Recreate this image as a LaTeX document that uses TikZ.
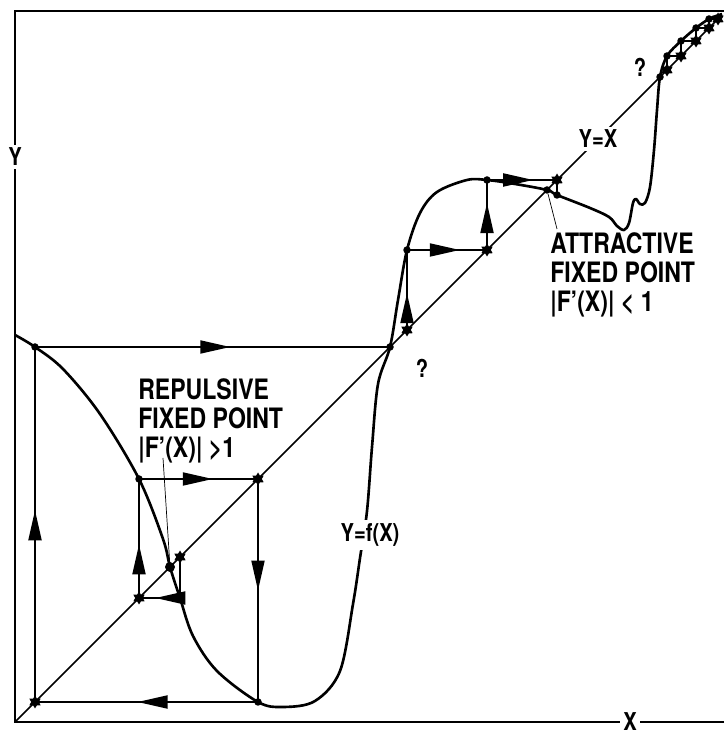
\documentclass[tikz,border=0pt]{standalone}
\usepackage{fontspec}
\setmainfont[FakeStretch=0.82]{TeX Gyre Heros}
\usepackage{tikz}
\usetikzlibrary{shapes.geometric, arrows.meta, decorations.markings}

\begin{document}
\begin{tikzpicture}[
  x=0.02cm, y=0.02cm,
  axis/.style={line width=1.1pt},
  graph/.style={line width=1.5pt, line join=round},
  web/.style={line width=1.1pt},
  flow/.style={postaction={decorate}, decoration={markings, mark=at position #1 with {\arrow{Triangle[length=6mm, width=2.6mm]}}}},
  diagpt/.style={star, star points=6, star point ratio=1.7, fill=black, inner sep=0pt, minimum size=2.6mm},
  curvept/.style={circle, fill=black, inner sep=0pt, minimum size=1.5mm},
  axlabel/.style={fill=white, inner sep=2pt, font=\fontsize{14}{16}\selectfont\bfseries},
  fplabel/.style={align=left, inner sep=0pt, font=\fontsize{16}{16.5}\selectfont\bfseries},
  pointer/.style={line width=0.4pt}
]
\useasboundingbox (-15,-20) rectangle (709,722);
\coordinate (o) at (0,0);
\coordinate (tl) at (0,711);
\coordinate (tr) at (709,711);
\coordinate (br) at (709,0);
\coordinate (dend) at (707,707);
\draw[axis] (br) -- (o) -- (tl) -- (tr);
\draw[line width=0.85pt] (o) -- (dend);
\draw[graph] plot[smooth, tension=0.55] coordinates {
  (0,387) (20,375) (48,353) (85,308) (124,243) (148,183) (155,155) (165,124)
  (178,86) (202,51) (243,20) (268,15) (300,21) (325,51) (338,118) (345,164)
  (352,211) (357,275) (363,338) (375,375) (383,422) (392,472) (405,509)
  (422,530) (452,542) (472,542) (500,538) (532,532) (542,527) (575,514)
  (594,505) (602,496) (609,492) (614,499) (618,519) (621,523) (625,518)
  (630,519) (635,535) (639,572) (642,612) (645,645) (652,666) (666,681)
  (681,694) (694,703) (707,708)};

\node[axlabel] (ylab) at (0,565) {Y};
\node[axlabel] (xlab) at (615,0) {X};
\node[axlabel] (diaglab) at (583,583) {Y=X};
\node[axlabel] (flab) at (355,187) {Y=f(X)};
\node[axlabel, fill=none] (q1) at (407,354) {?};
\node[axlabel, fill=none] (q2) at (625,655) {?};

\node[diagpt] (s1) at (20,20) {};
\node[curvept] (c1) at (20,375) {};
\node[curvept] (m) at (375,375) {};
\node[diagpt] (r0) at (165,165) {};
\coordinate (rc0) at (165,124);
\node[diagpt] (s2) at (124,124) {};
\node[curvept] (c2) at (124,243) {};
\node[diagpt] (s3) at (243,243) {};
\node[curvept] (c3) at (243,20) {};
\node[curvept, minimum size=2mm] (rfix) at (155,155) {};

\draw[web, flow=0.8] (r0.center) -- (rc0) -- (s2.center);
\draw[web, flow=0.45] (s2.center) -- (c2.center);
\draw[web, flow=0.62] (c2.center) -- (s3.center);
\draw[web, flow=0.5] (s3.center) -- (c3.center);
\draw[web, flow=0.54] (c3.center) -- (s1.center);
\draw[web, flow=0.54] (s1.center) -- (c1.center);
\draw[web, flow=0.55] (c1.center) -- (m.center);

\node[diagpt] (t1) at (392,392) {};
\node[curvept] (tc1) at (392,472) {};
\node[diagpt] (t2) at (472,472) {};
\node[curvept] (tc2) at (472,542) {};
\node[diagpt] (t3) at (542,542) {};
\node[curvept] (tc3) at (542,527) {};
\node[curvept] (afix) at (532,532) {};

\draw[web, flow=0.46] (t1.center) -- (tc1.center);
\draw[web, flow=0.66] (tc1.center) -- (t2.center);
\draw[web, flow=0.67] (t2.center) -- (tc2.center);
\draw[web, flow=0.66] (tc2.center) -- (t3.center);
\draw[web] (t3.center) -- (tc3.center);

\node[curvept] (topfix) at (645,645) {};
\node[diagpt] (u1) at (652,652) {};
\node[curvept] (uc1) at (652,666) {};
\node[diagpt] (u2) at (666,666) {};
\node[curvept] (uc2) at (666,681) {};
\node[diagpt] (u3) at (681,681) {};
\node[curvept] (uc3) at (681,694) {};
\node[diagpt] (u4) at (694,694) {};
\node[curvept] (uc4) at (694,703) {};
\node[diagpt] (u5) at (703,703) {};
\draw[web] (u1.center) -- (uc1.center) -- (u2.center) -- (uc2.center) -- (u3.center)
  -- (uc3.center) -- (u4.center) -- (uc4.center) -- (u5.center);

\node[fplabel, anchor=north west] (replab) at (123,344) {REPULSIVE\\FIXED POINT\\|F'(X)| >1};
\node[fplabel, anchor=north west] (attlab) at (535,490) {ATTRACTIVE\\FIXED POINT\\|F'(X)| < 1};
\coordinate (reptip) at (148,264);
\coordinate (atttip) at (542,493);
\draw[pointer] (reptip) -- (rfix);
\draw[pointer] (atttip) -- (afix);
\end{tikzpicture}
\end{document}
